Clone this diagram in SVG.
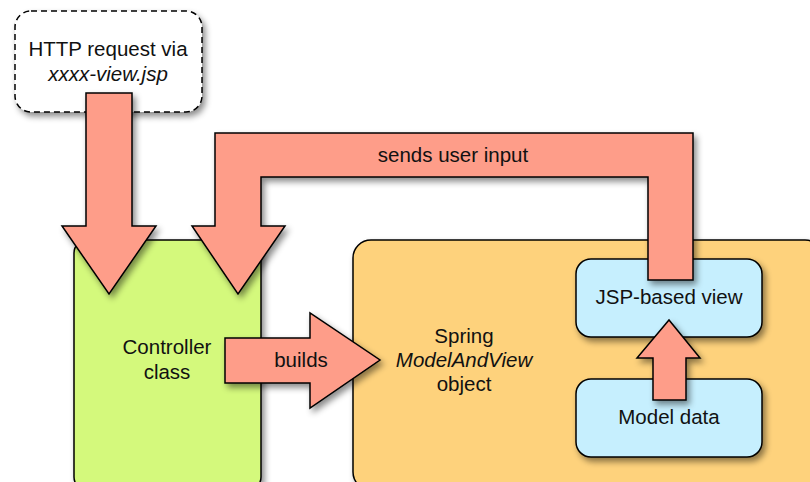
<svg xmlns="http://www.w3.org/2000/svg" width="810" height="482" viewBox="0 0 810 482">
  <defs>
    <filter id="shadow" x="-20%" y="-20%" width="140%" height="140%">
      <feDropShadow dx="3" dy="4" stdDeviation="3" flood-color="#000" flood-opacity="0.45"/>
    </filter>
  </defs>
  <style>
    .box { stroke: #000; stroke-width: 1.5; filter: url(#shadow); }
    .arrow { fill: #fe9d89; stroke: #000; stroke-width: 1.5; stroke-linejoin: miter; filter: url(#shadow); }
    text { font-family: "Liberation Sans", Arial, sans-serif; font-size: 20.5px; fill: #111; text-anchor: middle; }
    .it { font-style: italic; }
  </style>
  <rect width="810" height="482" fill="#fff"/>

  <g id="http-request">
    <rect class="box" x="15" y="11" width="187" height="101" rx="16" fill="#fff" stroke-dasharray="6 4"/>
    <text x="108" y="56">HTTP request via</text>
    <text x="108" y="81" class="it">xxxx-view.jsp</text>
  </g>

  <g id="controller">
    <rect class="box" x="74" y="240" width="187" height="250" rx="13" fill="#d4f97b"/>
    <text x="167" y="354">Controller</text>
    <text x="167" y="379">class</text>
  </g>

  <g id="model-and-view">
    <rect class="box" x="353" y="240" width="470" height="250" rx="18" fill="#fed27c"/>
    <text x="464" y="343">Spring</text>
    <text x="464" y="367" class="it">ModelAndView</text>
    <text x="464" y="391">object</text>
  </g>

  <g id="jsp-view">
    <rect class="box" x="576" y="259" width="186" height="78" rx="15" fill="#c6effe"/>
    <text x="669" y="304">JSP-based view</text>
  </g>

  <g id="model-data">
    <rect class="box" x="576" y="379" width="186" height="78" rx="15" fill="#c6effe"/>
    <text x="669" y="424">Model data</text>
  </g>

  <g id="connectors">
    <!-- request into controller -->
    <path class="arrow" d="M86,93 L132,93 L132,226 L156,226 L109,294 L62,226 L86,226 Z"/>
    <!-- view sends user input back to controller -->
    <path class="arrow" d="M648,280 L693,280 L693,133 L215,133 L215,226 L192,226 L238,294 L285,226 L261,226 L261,177 L648,177 Z"/>
    <text x="453" y="162">sends user input</text>
    <!-- controller builds model and view -->
    <path class="arrow" d="M225,338 L310,338 L310,313 L380,360 L310,408 L310,383 L225,383 Z"/>
    <text x="301" y="367">builds</text>
    <!-- model data feeds the view -->
    <path class="arrow" d="M653,400 L686,400 L686,358 L700,358 L669,320 L637,358 L653,358 Z"/>
  </g>
</svg>
